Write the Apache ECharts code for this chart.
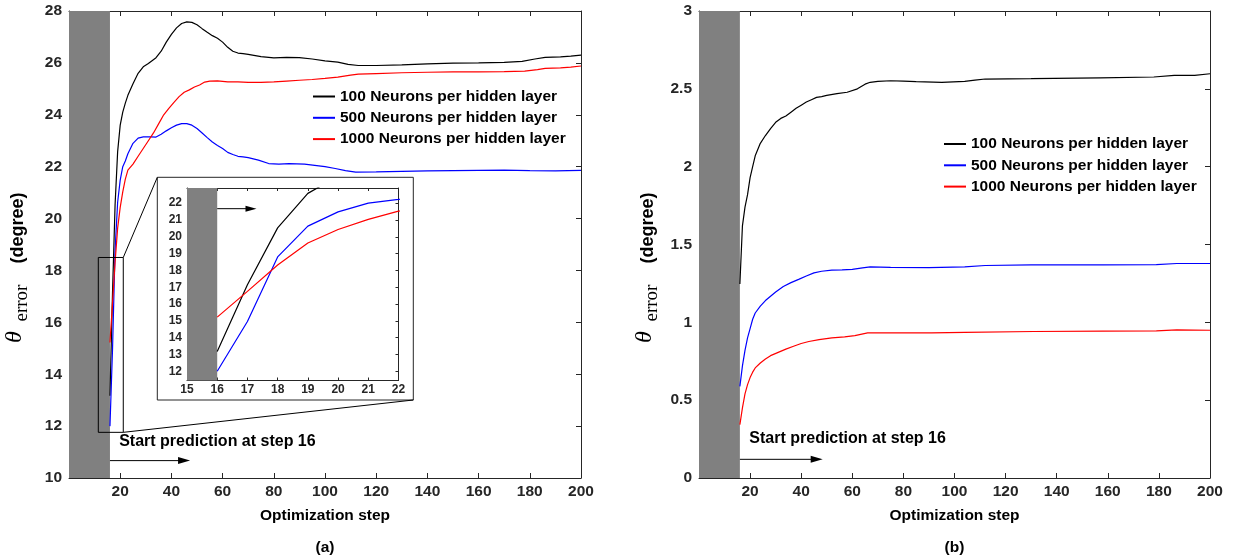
<!DOCTYPE html>
<html><head><meta charset="utf-8">
<script src="https://cdn.jsdelivr.net/npm/echarts@6/dist/echarts.min.js"></script>
<style>html,body{margin:0;padding:0;background:#fff}#c{width:1238px;height:560px}</style>
</head><body><div id="c"></div>
<script>
// ---------- DATA ----------
const seriesNames = ['100 Neurons per hidden layer', '500 Neurons per hidden layer', '1000 Neurons per hidden layer'];
const seriesColors = ['#000000', '#0000ff', '#ff0000'];

// (a) left chart
const a100x = [16,17,18,19,20,21,22,23,25,27,29,31,34,36,38,40,42,44,46,48,50,52,54,56,58,60,62,64,66,68,70,75,80,85,90,95,100,105,109,113,120,130,140,150,160,170,177,182,186,192,196,200];
const a100y = [13.17,17.15,20.53,22.58,23.6,24.1,24.45,24.75,25.2,25.6,25.85,25.98,26.2,26.45,26.8,27.1,27.35,27.52,27.58,27.56,27.47,27.32,27.18,27.05,26.95,26.8,26.6,26.45,26.38,26.36,26.33,26.24,26.19,26.21,26.2,26.15,26.08,26.03,25.94,25.9,25.9,25.92,25.96,25.99,26.0,26.02,26.06,26.15,26.21,26.23,26.26,26.3];
const a500x = [16,17,18,19,20,21,22,23,25,27,29,32,34,36,38,40,42,44,46,48,50,52,54,56,58,60,62,64,66,68,70,74,78,82,86,92,96,100,104,108,112,120,130,140,150,160,170,180,190,200];
const a500y = [12.0,14.96,18.8,20.63,21.48,22.0,22.22,22.5,22.9,23.1,23.15,23.15,23.14,23.25,23.38,23.5,23.6,23.66,23.66,23.6,23.47,23.3,23.12,22.95,22.82,22.7,22.55,22.47,22.4,22.38,22.35,22.25,22.12,22.1,22.12,22.1,22.05,22.0,21.93,21.85,21.79,21.8,21.82,21.84,21.85,21.86,21.87,21.85,21.84,21.86];
const a1000x = [16,17,18,19,20,21,22,23,25,27,29,31,33,35,37,39,41,43,45,47,49,51,53,55,58,62,66,70,75,80,85,90,95,100,105,110,113,120,130,140,150,160,170,178,183,186,192,196,200];
const a1000y = [15.22,16.75,18.32,19.63,20.43,21.03,21.52,21.87,22.1,22.4,22.7,23.0,23.3,23.65,24.0,24.25,24.48,24.7,24.87,24.96,25.07,25.15,25.26,25.3,25.31,25.27,25.27,25.25,25.25,25.27,25.3,25.33,25.36,25.4,25.45,25.53,25.57,25.59,25.62,25.64,25.65,25.65,25.66,25.68,25.74,25.79,25.81,25.84,25.88];

// (b) right chart
const b100x = [16,17,18,19,20,21,22,24,26,28,30,32,34,36,38,40,42,44,46,48,50,54,58,62,65,67,70,75,80,85,95,104,108,112,130,157,178,186,194,200];
const b100y = [1.246,1.62,1.74,1.82,1.93,2.0,2.07,2.15,2.2,2.245,2.285,2.31,2.325,2.35,2.375,2.395,2.415,2.43,2.445,2.45,2.458,2.469,2.478,2.5,2.53,2.542,2.548,2.552,2.55,2.546,2.542,2.548,2.556,2.563,2.565,2.571,2.576,2.586,2.586,2.597];
const b500x = [16,17,18,19,20,21,22,24,26,28,30,33,36,39,42,45,48,52,56,60,64,67,75,90,104,112,130,158,179,187,200];
const b500y = [0.589,0.72,0.82,0.9,0.96,1.02,1.06,1.104,1.14,1.168,1.195,1.23,1.255,1.276,1.298,1.318,1.328,1.335,1.337,1.34,1.35,1.356,1.353,1.352,1.356,1.365,1.369,1.369,1.371,1.378,1.378];
const b1000x = [16,17,18,19,20,21,22,24,26,28,31,34,37,40,43,47,52,57,61,66,78,91,104,131,158,179,187,200];
const b1000y = [0.343,0.45,0.54,0.6,0.645,0.68,0.707,0.739,0.765,0.786,0.807,0.828,0.846,0.864,0.877,0.889,0.9,0.906,0.915,0.932,0.932,0.932,0.936,0.941,0.943,0.945,0.951,0.949];

// axes / ticks
const stepRange = [0, 200];
const stepInterval = 20;
const aYRange = [10, 28];
const aYInterval = 2;
const bYRange = [0, 3];
const bYInterval = 0.5;
const insetXRange = [15, 22];
const insetYRange = [11.45, 22.9];
const insetYTicks = [12,13,14,15,16,17,18,19,20,21,22];
const predictionStart = 16;

// annotations (data units)
const zoomRectX = [11.45, 21.2];
const zoomRectY = [11.76, 18.5];
const arrowA = {x: [16, 47.3], y: 10.67};
const arrowB = {x: [16, 48.4], y: 0.12};
const textA = {x: 19.6, y: 11.42};
const textB = {x: 19.7, y: 0.25};
const insetArrow = {x: [16, 17.3], y: 21.67};
const annotationText = 'Start prediction at step 16';
const xTitle = 'Optimization step';
const panelLabels = ['(a)', '(b)'];

// ---------- STYLE ----------
const FONT = '"Liberation Sans", Arial, Helvetica, sans-serif';
const AX = '#262626';
const FS = 15.5;
const GRAY = '#808080';

const chart = echarts.init(document.getElementById('c'), null, {renderer: 'canvas'});
const pairs = (xs, ys) => xs.map((x, i) => [x, ys[i]]);

function xAx(grid, range, interval, opts) {
  opts = opts || {};
  const top = !!opts.top;
  return {
    type: 'value', gridIndex: grid, min: range[0], max: range[1], interval: interval,
    position: top ? 'top' : 'bottom',
    axisLine: {show: true, onZero: false, lineStyle: {color: AX, width: 1}},
    axisTick: {show: true, inside: true, length: opts.tickLen || 5, lineStyle: {color: AX, width: 1}},
    axisLabel: {show: !top, showMinLabel: opts.showMin !== false, color: AX, fontFamily: FONT, fontWeight: 'bold', fontSize: opts.fs || FS, margin: opts.margin || 6},
    splitLine: {show: false},
    name: (!top && opts.name) ? opts.name : '',
    nameLocation: 'middle', nameGap: 30,
    nameTextStyle: {color: '#000', fontFamily: FONT, fontWeight: 'bold', fontSize: FS}
  };
}
function yAx(grid, range, interval, opts) {
  opts = opts || {};
  const right = !!opts.right;
  const ax = {
    type: 'value', gridIndex: grid, min: range[0], max: range[1],
    position: right ? 'right' : 'left',
    axisLine: {show: true, onZero: false, lineStyle: {color: AX, width: 1}},
    axisTick: {show: true, inside: true, length: opts.tickLen || 5, lineStyle: {color: AX, width: 1}},
    axisLabel: {show: !right, color: AX, fontFamily: FONT, fontWeight: 'bold', fontSize: opts.fs || FS, margin: opts.margin || 7},
    splitLine: {show: false}
  };
  if (interval) ax.interval = interval;
  if (opts.ticks) {
    ax.axisLabel.customValues = opts.ticks;
    ax.axisTick.customValues = opts.ticks;
  }
  return ax;
}

function lineSeries(i, xs, ys, axisIdx, extra) {
  const s = {
    type: 'line', name: seriesNames[i], xAxisIndex: axisIdx, yAxisIndex: axisIdx,
    data: pairs(xs, ys), showSymbol: false, symbol: 'none', smooth: false, clip: true,
    lineStyle: {color: seriesColors[i], width: 1.2}, itemStyle: {color: seriesColors[i]},
    emphasis: {disabled: true}, z: 3
  };
  return Object.assign(s, extra || {});
}
const band = (x0, x1) => ({silent: true, itemStyle: {color: GRAY, opacity: 1}, data: [[{xAxis: x0}, {xAxis: x1}]]});

const legendBase = {
  data: seriesNames, orient: 'vertical', itemGap: 5.3, itemWidth: 22, itemHeight: 2, icon: 'rect', padding: 0,
  textStyle: {fontFamily: FONT, fontWeight: 'bold', fontSize: FS, color: '#000', lineHeight: 16, padding: [0, 0, 0, 0]}
};

const option = {
  animation: false,
  backgroundColor: '#ffffff',
  grid: [
    {left: 69, top: 11, width: 512, height: 467},
    {left: 699, top: 11, width: 511, height: 467},
    {left: 187, top: 188, width: 211.5, height: 192.5, z: 5}
  ],
  xAxis: [
    xAx(0, stepRange, stepInterval, {showMin: false, name: xTitle}),
    xAx(0, stepRange, stepInterval, {top: true}),
    xAx(1, stepRange, stepInterval, {showMin: false, name: xTitle}),
    xAx(1, stepRange, stepInterval, {top: true}),
    xAx(2, insetXRange, 1, {fs: 12, tickLen: 3, margin: 3}),
    xAx(2, insetXRange, 1, {top: true, tickLen: 3})
  ],
  yAxis: [
    yAx(0, aYRange, aYInterval),
    yAx(0, aYRange, aYInterval, {right: true}),
    yAx(1, bYRange, bYInterval),
    yAx(1, bYRange, bYInterval, {right: true}),
    yAx(2, insetYRange, null, {ticks: insetYTicks, fs: 12, tickLen: 3, margin: 5}),
    yAx(2, insetYRange, null, {ticks: insetYTicks, right: true, tickLen: 3})
  ],
  legend: [
    Object.assign({}, legendBase, {left: 313, top: 88.5}),
    Object.assign({}, legendBase, {left: 944, top: 136})
  ],
  series: [
    lineSeries(0, a100x, a100y, 0, {markArea: band(stepRange[0], predictionStart)}),
    lineSeries(1, a500x, a500y, 0),
    lineSeries(2, a1000x, a1000y, 0),
    lineSeries(0, b100x, b100y, 2, {markArea: band(stepRange[0], predictionStart)}),
    lineSeries(1, b500x, b500y, 2),
    lineSeries(2, b1000x, b1000y, 2),
    lineSeries(0, a100x, a100y, 4, {markArea: band(insetXRange[0], predictionStart), z: 6}),
    lineSeries(1, a500x, a500y, 4, {z: 6}),
    lineSeries(2, a1000x, a1000y, 4, {z: 6})
  ]
};
chart.setOption(option);

// ---------- ANNOTATIONS ----------
const pA = v => chart.convertToPixel({xAxisIndex: 0, yAxisIndex: 0}, v);
const pB = v => chart.convertToPixel({xAxisIndex: 2, yAxisIndex: 2}, v);
const pI = v => chart.convertToPixel({xAxisIndex: 4, yAxisIndex: 4}, v);

function arrow(p1, p2, len, hw) {
  return [
    {type: 'line', z: 20, shape: {x1: p1[0], y1: p1[1], x2: p2[0] - len + 1, y2: p2[1]}, style: {stroke: '#000', lineWidth: 1}},
    {type: 'polygon', z: 20, shape: {points: [[p2[0], p2[1]], [p2[0] - len, p2[1] - hw], [p2[0] - len, p2[1] + hw]]}, style: {fill: '#000'}}
  ];
}
function label(p, text) {
  return {type: 'text', z: 20, x: p[0], y: p[1], style: {text: text, fontFamily: FONT, fontWeight: 'bold', fontSize: FS + 0.5, fill: '#000', align: 'left', verticalAlign: 'middle'}};
}
function yTitle(axisX, midY) {
  // rotated 90deg CCW, reading bottom to top
  const r = Math.PI / 2;
  return [
    {type: 'text', z: 20, x: axisX - 54, y: midY + 98.5, rotation: r,
      style: {text: 'θ', fontFamily: '"Liberation Serif", "Times New Roman", serif', fontStyle: 'italic', fontSize: 24, fill: '#000', align: 'left', verticalAlign: 'middle'}},
    {type: 'text', z: 20, x: axisX - 46.5, y: midY + 77, rotation: r,
      style: {text: 'error', fontFamily: '"Liberation Serif", "Times New Roman", serif', fontSize: 19, fill: '#000', align: 'left', verticalAlign: 'middle'}},
    {type: 'text', z: 20, x: axisX - 50.5, y: midY + 19, rotation: r,
      style: {text: '(degree)', fontFamily: FONT, fontWeight: 'bold', fontSize: 18, fill: '#000', align: 'left', verticalAlign: 'middle'}}
  ];
}

const g = [];
// inset frame
g.push({type: 'rect', z: -1, shape: {x: 157.3, y: 177.3, width: 256, height: 222.7}, style: {fill: '#fff', stroke: AX, lineWidth: 1}});
// zoom rectangle on left chart
const rTL = pA([zoomRectX[0], zoomRectY[1]]), rBR = pA([zoomRectX[1], zoomRectY[0]]);
g.push({type: 'rect', z: 20, shape: {x: rTL[0], y: rTL[1], width: rBR[0] - rTL[0], height: rBR[1] - rTL[1]}, style: {fill: 'none', stroke: '#000', lineWidth: 1}});
g.push({type: 'line', z: 20, shape: {x1: rBR[0], y1: rTL[1], x2: 157.3, y2: 177.3}, style: {stroke: '#000', lineWidth: 1}});
g.push({type: 'line', z: 20, shape: {x1: rBR[0], y1: rBR[1], x2: 413.3, y2: 400}, style: {stroke: '#000', lineWidth: 1}});
// arrows
g.push(...arrow(pA([arrowA.x[0], arrowA.y]), pA([arrowA.x[1], arrowA.y]), 12, 3.5));
g.push(...arrow(pB([arrowB.x[0], arrowB.y]), pB([arrowB.x[1], arrowB.y]), 12, 3.5));
g.push(...arrow(pI([insetArrow.x[0], insetArrow.y]), pI([insetArrow.x[1], insetArrow.y]), 11, 3));
// texts
g.push(label(pA([textA.x, textA.y]), annotationText));
g.push(label(pB([textB.x, textB.y]), annotationText));
g.push(...yTitle(69, 244.5));
g.push(...yTitle(699, 244.5));
g.push({type: 'text', z: 20, x: 325, y: 548, style: {text: panelLabels[0], fontFamily: FONT, fontWeight: 'bold', fontSize: FS, fill: '#000', align: 'center', verticalAlign: 'middle'}});
g.push({type: 'text', z: 20, x: 954.5, y: 548, style: {text: panelLabels[1], fontFamily: FONT, fontWeight: 'bold', fontSize: FS, fill: '#000', align: 'center', verticalAlign: 'middle'}});

chart.setOption({graphic: {elements: g}});
</script>
</body></html>
